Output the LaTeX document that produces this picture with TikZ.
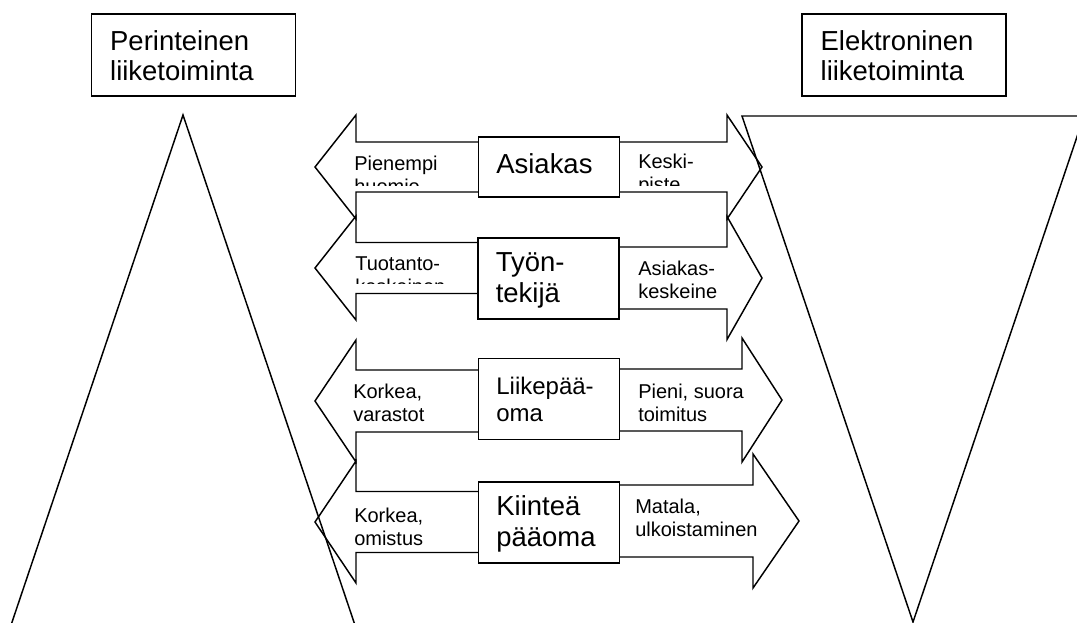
\documentclass[tikz,border=0pt]{standalone}
\usepackage{fontspec}
\setmainfont{Liberation Sans}
\usepackage{tikz}
\usetikzlibrary{positioning}

\begin{document}
\begin{tikzpicture}[x=0.75pt, y=-0.75pt,
  title/.style={draw, line width=1.1pt, fill=white, align=left, inner xsep=14pt, text width=125pt, minimum height=61.5pt, font=\fontsize{20.6}{22.5}\selectfont, execute at begin node=\strut},
  box/.style={draw, line width=1.1pt, fill=white, align=left, inner xsep=13.5pt, text width=79pt, font=\fontsize{20.6}{23.25}\selectfont, execute at begin node=\strut},
  lbl/.style={anchor=base west, inner sep=0pt, align=left, font=\fontsize{15}{17.25}\selectfont},
  barrow/.style={draw, line width=1.1pt, line join=miter}]
\useasboundingbox (0,0) rectangle (1077,622);
\clip (0,0) rectangle (1077,622);
% the two triangles
\draw[barrow] (183,115) -- (6,640) -- (360,640) -- cycle;
\draw[barrow] (742,116) -- (1084,116) -- (913,622) -- cycle;
% arrows to the left
\draw[barrow] (549,142) -- (356,142) -- (356,115) -- (315,167) -- (356,219) -- (356,192) -- (549,192);
\draw[barrow] (549,242.5) -- (356,242.5) -- (356,216) -- (315,268) -- (356,320) -- (356,293.5) -- (549,293.5);
\draw[barrow] (549,370) -- (356,370) -- (356,340) -- (315,401) -- (356,462) -- (356,432) -- (549,432);
\draw[barrow] (549,491.5) -- (356,491.5) -- (356,461) -- (315,522) -- (356,583) -- (356,552.5) -- (549,552.5);
% arrows to the right
\draw[barrow] (549,142) -- (727,142) -- (727,115) -- (762,167) -- (727,219) -- (727,192) -- (549,192);
\draw[barrow] (549,247) -- (727,247) -- (727,216.5) -- (762,278) -- (727,339.5) -- (727,309) -- (549,309);
\draw[barrow] (549,369) -- (742,369) -- (742,338) -- (782,400) -- (742,462) -- (742,431) -- (549,431);
\draw[barrow] (549,485) -- (753,485) -- (753,454) -- (799,521) -- (753,588) -- (753,557) -- (549,557);
% headings
\node[title] (perint) at (193.5,55) {Perinteinen\\liiketoiminta};
\node[title] (elektr) at (904,55) {Elektroninen\\liiketoiminta};
% middle boxes
\node[box, minimum height=45pt] (asiakas) at (549,167) {Asiakas};
\node[box, minimum height=60.75pt] (tyontek) at (548.5,278.5) {Työn-\\tekijä};
\node[box, minimum height=60.75pt, font=\fontsize{18}{20.25}\selectfont] (liikep) at (549,399) {Liikepää-\\oma};
\node[box, minimum height=60.75pt] (kiintea) at (549,522.5) {Kiinteä\\pääoma};
% arrow texts (anchored on the last line)
\begin{scope}
  \clip (340,142) rectangle (478,185);
  \node[lbl] (asiakasL) at (354,193) {Pienempi\\huomio};
\end{scope}
\begin{scope}
  \clip (620,142) rectangle (727,185);
  \node[lbl] (asiakasR) at (638,191) {Keski-\\piste};
\end{scope}
\begin{scope}
  \clip (340,243) rectangle (478,283);
  \node[lbl] (tyontekL) at (355,293) {Tuotanto-\\keskeinen};
\end{scope}
\node[lbl] (tyontekR) at (638,298) {Asiakas-\\keskeine};
\node[lbl] (liikepL) at (353,421) {Korkea,\\varastot};
\node[lbl] (liikepR) at (638,421) {Pieni, suora\\toimitus};
\node[lbl] (kiinteaL) at (354,545) {Korkea,\\omistus};
\node[lbl] (kiinteaR) at (635,536) {Matala,\\ulkoistaminen};
\end{tikzpicture}
\end{document}
